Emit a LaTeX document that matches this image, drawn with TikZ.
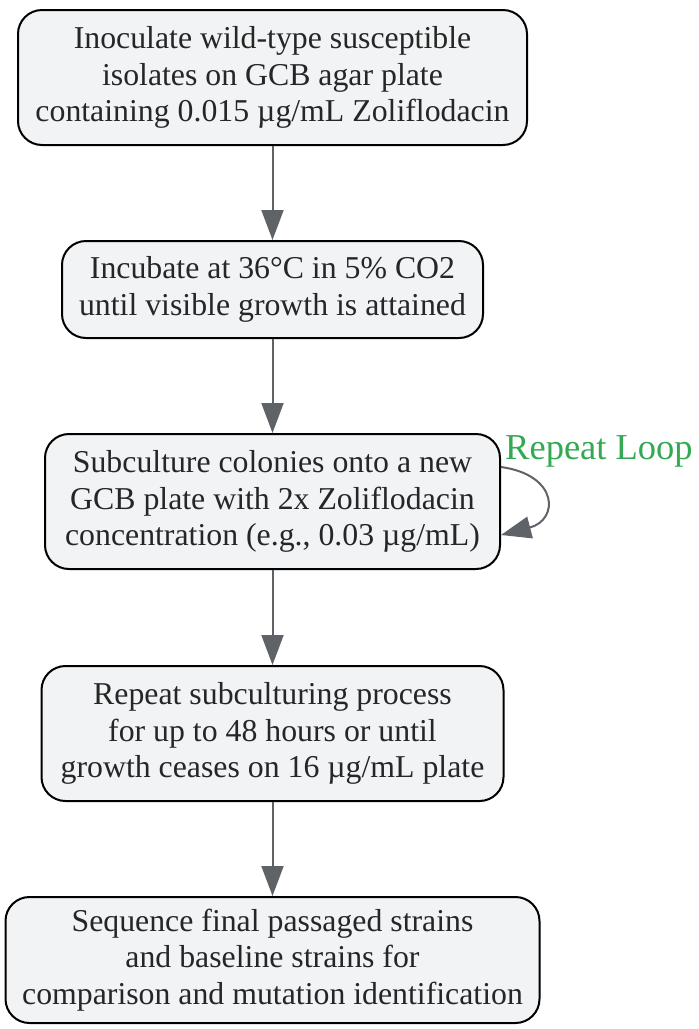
\documentclass[tikz,border=0pt]{standalone}
\usepackage{fontspec}
\setmainfont{Liberation Serif}
\usetikzlibrary{arrows.meta}
\definecolor{boxfill}{HTML}{F1F3F4}
\definecolor{edgegray}{HTML}{5F6368}
\definecolor{loopgreen}{HTML}{34A853}
\begin{document}
\begin{tikzpicture}[x=1pt,y=-1pt,
  stepbox/.style={draw=black, line width=2pt, fill=boxfill, rounded corners=24pt,
    align=center, font=\fontsize{31.8}{36.5}\selectfont, text=black!85, inner sep=0pt},
  flow/.style={draw=edgegray, line width=2pt, -{Triangle[length=30pt,width=22pt]}}]
\useasboundingbox (0,0) rectangle (699,1029);
\node[stepbox, minimum width=509pt, minimum height=135pt] (s1) at (272.5,77.5)
  {Inoculate wild-type susceptible\\isolates on GCB agar plate\\containing 0.015 µg/mL Zoliflodacin};
\node[stepbox, minimum width=421pt, minimum height=97pt] (s2) at (272.5,289.5)
  {Incubate at 36°C in 5\% CO2\\until visible growth is attained};
\node[stepbox, minimum width=455pt, minimum height=135pt] (s3) at (272.5,501.5)
  {Subculture colonies onto a new\\GCB plate with 2x Zoliflodacin\\concentration (e.g., 0.03 µg/mL)};
\node[stepbox, minimum width=462pt, minimum height=135pt] (s4) at (272.5,733.5)
  {Repeat subculturing process\\for up to 48 hours or until\\growth ceases on 16 µg/mL plate};
\node[stepbox, minimum width=534pt, minimum height=126pt] (s5) at (272.5,960)
  {Sequence final passaged strains\\and baseline strains for\\comparison and mutation identification};
\draw[flow] (s1.south) -- (s2.north);
\draw[flow] (s2.south) -- (s3.north);
\draw[flow] (s3.south) -- (s4.north);
\draw[flow] (s4.south) -- (s5.north);
\coordinate (ls) at (501,467);
\coordinate (le) at (501,535);
\draw[flow] (ls) .. controls (559,475) and (559,520) .. (le);
\node[text=loopgreen, font=\fontsize{36.5}{40}\selectfont, anchor=west, inner sep=0pt] (lbl) at (505,451) {Repeat Loop};
\end{tikzpicture}
\end{document}
